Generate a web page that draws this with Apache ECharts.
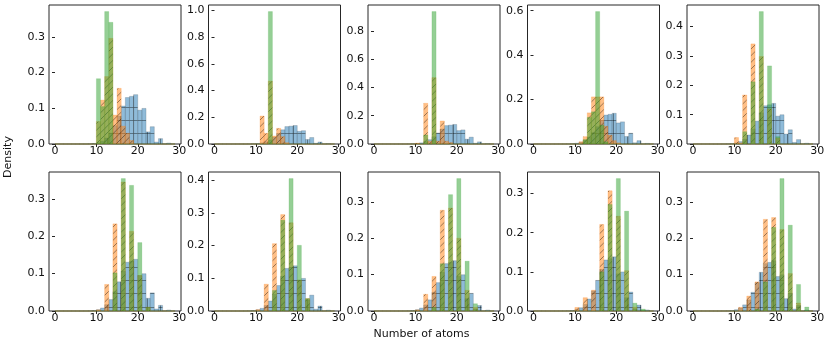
<!DOCTYPE html>
<html><head><meta charset="utf-8">
<script src="https://cdn.jsdelivr.net/npm/echarts@6/dist/echarts.min.js"></script>
<style>html,body{margin:0;padding:0;background:#fff}#c{width:830px;height:346px}</style>
</head><body><div id="c"></div>
<script>
// ---------- data (bins of width 1 from 0 to 29) ----------
const binEdges = [0,1,2,3,4,5,6,7,8,9,10,11,12,13,14,15,16,17,18,19,20,21,22,23,24,25,26,27,28,29];
const xTicks = [0, 10, 20, 30];
const yTickStep = [0.1, 0.2, 0.2, 0.2, 0.1, 0.1, 0.1, 0.1, 0.1, 0.1];
const xLabel = 'Number of atoms';
const yLabel = 'Density';

// blue (same reference distribution in every panel)
const blueDensity = [0,0,0,0.00001,0.00004,0.00005,0.00009,0.00016,0.0005,0.0012,0.0036,0.0081,0.0169,0.0306,0.0514,0.078,0.1064,0.1303,0.1336,0.1383,0.0948,0.0997,0.0339,0.0485,0.0054,0.0151,0.0005,0.0027,0.0003];

// orange (hatched) per panel
const orangeDensity = [
  [0,0,0,0,0,0,0,0,0,0, 0.063,0.123,0.189,0.296,0.081,0.156,0.05,0.03,0.01, 0,0,0,0,0,0,0,0,0,0],
  [0,0,0,0,0,0,0,0,0,0,0, 0.209,0.08,0.47,0.06,0.117,0.055,0.01, 0,0,0,0,0,0,0,0,0,0,0],
  [0,0,0,0,0,0,0,0,0,0, 0.006,0,0.288,0.02,0.47,0.02,0.163,0.02,0.01, 0,0,0,0,0,0,0,0,0,0],
  [0,0,0,0,0,0,0,0,0,0,0, 0.01,0.033,0.14,0.212,0.212,0.212,0.08,0.04,0.015,0.005, 0,0,0,0,0,0,0,0],
  [0,0,0,0,0,0,0,0,0,0, 0.022,0.004,0.167,0,0.341,0,0.298,0,0.12,0,0.02, 0,0,0,0,0,0,0,0],
  [0,0,0,0,0,0,0,0,0,0, 0.003,0,0.071,0,0.233,0,0.345,0,0.213,0,0.095,0,0.01, 0,0,0,0,0,0],
  [0,0,0,0,0,0,0,0,0,0, 0.004,0,0.082,0,0.206,0,0.295,0,0.27,0,0.094,0,0.038, 0,0,0,0,0,0],
  [0,0,0,0,0,0,0,0,0,0, 0.003,0,0.046,0,0.095,0,0.277,0,0.283,0,0.2,0,0.057,0,0.01, 0,0,0,0],
  [0,0,0,0,0,0,0,0,0,0, 0.009,0,0.034,0,0.053,0,0.221,0,0.307,0,0.242,0,0.103,0,0.01, 0,0,0,0],
  [0,0,0,0,0,0,0,0,0,0,0, 0.01,0,0.041,0,0.08,0,0.252,0,0.257,0,0.224,0,0.103,0,0.022, 0,0,0]
];

// green (solid) per panel
const greenDensity = [
  [0,0,0,0,0,0,0,0,0,0, 0.183,0.105,0.371,0.341, 0,0,0,0,0,0,0,0,0,0,0,0,0,0,0],
  [0,0,0,0,0,0,0,0,0,0,0,0,0, 0.99, 0,0,0,0,0,0,0,0,0,0,0,0,0,0,0],
  [0,0,0,0,0,0,0,0,0,0,0,0, 0.064,0,0.937, 0,0,0,0,0,0,0,0,0,0,0,0,0,0],
  [0,0,0,0,0,0,0,0,0,0,0,0, 0.02,0.12,0.145,0.596,0.085,0.01, 0,0,0,0,0,0,0,0,0,0,0],
  [0,0,0,0,0,0,0,0,0,0,0,0, 0.042,0,0.212,0,0.451,0,0.266,0,0.025, 0,0,0,0,0,0,0,0],
  [0,0,0,0,0,0,0,0,0,0,0,0,0,0, 0.102,0,0.354,0,0.336,0,0.183,0,0.01, 0,0,0,0,0,0],
  [0,0,0,0,0,0,0,0,0,0,0,0,0,0, 0.063,0,0.278,0,0.405,0,0.201,0,0.038, 0,0,0,0,0,0],
  [0,0,0,0,0,0,0,0,0,0,0,0,0,0, 0.01,0,0.13,0,0.32,0,0.364,0,0.137,0,0.02, 0,0,0,0],
  [0,0,0,0,0,0,0,0,0,0,0,0,0,0,0,0, 0.1,0,0.272,0,0.338,0,0.255,0,0.02,0,0.005, 0,0],
  [0,0,0,0,0,0,0,0,0,0,0,0,0,0,0, 0.005,0,0.08,0,0.23,0,0.364,0,0.236,0,0.073,0,0.011, 0]
];

// ---------- hatch patterns ----------
function gridHatch() {
  const c = document.createElement('canvas'); c.width = 40; c.height = 40;
  const g = c.getContext('2d');
  g.fillStyle = 'rgba(31,119,180,0.5)'; g.fillRect(0, 0, 40, 40);
  g.strokeStyle = 'rgba(0,0,0,0.38)'; g.lineWidth = 1;
  for (let k = 0; k < 3; k++) {
    const p = Math.round(k * 40 / 3) + 0.5;
    g.beginPath(); g.moveTo(p, 0); g.lineTo(p, 40); g.stroke();
    g.beginPath(); g.moveTo(0, p); g.lineTo(40, p); g.stroke();
  }
  return c;
}
function diagHatch() {
  const c = document.createElement('canvas'); c.width = 20; c.height = 20;
  const g = c.getContext('2d');
  g.fillStyle = 'rgba(255,127,14,0.5)'; g.fillRect(0, 0, 20, 20);
  g.strokeStyle = 'rgba(0,0,0,0.4)'; g.lineWidth = 1;
  for (let k = -1; k <= 7; k++) {
    const cst = k * 20 / 3;
    g.beginPath(); g.moveTo(-20, cst + 20); g.lineTo(40, cst - 40); g.stroke();
  }
  return c;
}
const blueFill = { image: gridHatch(), repeat: 'repeat' };
const orangeFill = { image: diagHatch(), repeat: 'repeat' };
const greenFill = 'rgba(44,160,44,0.5)';

// ---------- layout ----------
const gridLeft = [49, 208.5, 368, 527.5, 687];
const gridTop = [5, 172];
const gridW = 132, gridH = 139;
const font = 'DejaVu Sans';

const grids = [], xAxes = [], yAxes = [], series = [];
function makeSeries(i, arr, fill, stroke, z) {
  return {
    type: 'custom', xAxisIndex: i, yAxisIndex: i, z: z, silent: true,
    data: arr.map((v, k) => [binEdges[k], binEdges[k + 1], v]),
    renderItem: function (params, api) {
      const p0 = api.coord([api.value(0), api.value(2)]);
      const p1 = api.coord([api.value(1), 0]);
      return {
        type: 'rect',
        shape: { x: p0[0], y: p0[1], width: p1[0] - p0[0], height: p1[1] - p0[1] },
        style: { fill: fill, stroke: stroke, lineWidth: 0.6 }
      };
    }
  };
}
for (let i = 0; i < 10; i++) {
  const row = Math.floor(i / 5), col = i % 5;
  grids.push({ left: gridLeft[col], top: gridTop[row], width: gridW, height: gridH,
    show: true, borderColor: '#262626', borderWidth: 1, backgroundColor: 'transparent' });
  xAxes.push({ gridIndex: i, type: 'value', min: -1.45, max: 30.45,
    axisLine: { show: false }, splitLine: { show: false },
    axisTick: { show: true, length: 3, customValues: xTicks, lineStyle: { color: '#262626' } },
    axisLabel: { customValues: xTicks, margin: 2, fontSize: 11, fontFamily: font, color: '#111' } });
  const maxV = Math.max(...blueDensity, ...orangeDensity[i], ...greenDensity[i]);
  const ymax = maxV * 1.05;
  const yt = [];
  for (let k = 0; k * yTickStep[i] <= ymax + 1e-9; k++) yt.push(+(k * yTickStep[i]).toFixed(2));
  yAxes.push({ gridIndex: i, type: 'value', min: 0, max: ymax,
    axisLine: { show: false }, splitLine: { show: false },
    axisTick: { show: true, length: 3, customValues: yt, lineStyle: { color: '#262626' } },
    axisLabel: { customValues: yt, margin: 4, fontSize: 11, fontFamily: font, color: '#111',
      formatter: v => v.toFixed(1) } });
  series.push(makeSeries(i, blueDensity, blueFill, 'rgba(60,70,80,0.35)', 1));
  series.push(makeSeries(i, orangeDensity[i], orangeFill, 'rgba(255,127,14,0.35)', 2));
  series.push(makeSeries(i, greenDensity[i], greenFill, 'rgba(44,160,44,0.25)', 3));
}

const chart = echarts.init(document.getElementById('c'));
chart.setOption({
  animation: false,
  backgroundColor: '#fff',
  grid: grids, xAxis: xAxes, yAxis: yAxes, series: series,
  graphic: [
    { type: 'text', x: 421.5, y: 334, style: { text: xLabel, font: '11px "DejaVu Sans"', fill: '#111', textAlign: 'center', textVerticalAlign: 'middle' } },
    { type: 'text', x: 8.5, y: 157, rotation: Math.PI / 2, style: { text: yLabel, font: '11px "DejaVu Sans"', fill: '#111', textAlign: 'center', textVerticalAlign: 'middle' } }
  ]
});
</script>
</body></html>
